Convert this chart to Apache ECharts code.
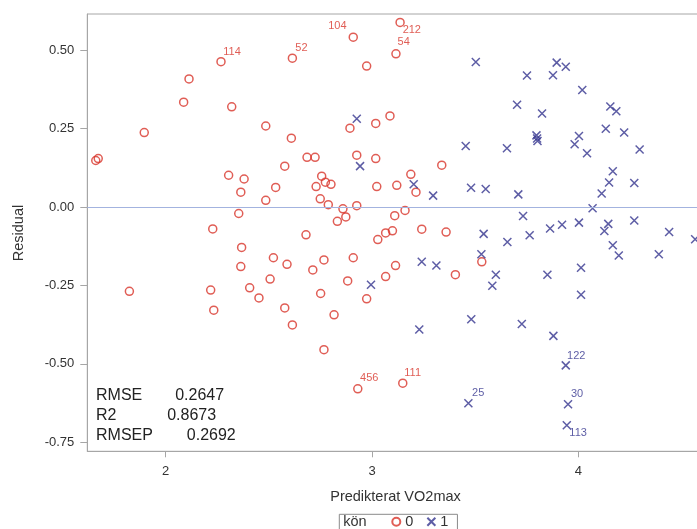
<!DOCTYPE html>
<html><head><meta charset="utf-8">
<script src="https://cdn.jsdelivr.net/npm/echarts@6/dist/echarts.min.js"></script>
<style>html,body{margin:0;padding:0;background:#fff;overflow:hidden;width:697px;height:529px;} #c{width:717px;height:529px;}</style>
</head><body><div id="c"></div>
<script>
// ---------- data ----------
const xTicks = [2, 3, 4];
const yTicks = [-0.75, -0.5, -0.25, 0, 0.25, 0.5];
const xTitle = 'Predikterat VO2max';
const yTitle = 'Residual';
const legendTitle = 'kön';
const groupNames = ['0', '1'];
const statNames = ['RMSE', 'R2', 'RMSEP'];
const statValues = ['0.2647', '0.8673', '0.2692'];

// kön = 0 : [predicted, residual, obs label]
const group0 = [
  [2.268,0.463,'114'],[2.113,0.408,''],[2.087,0.334,''],[2.320,0.319,''],[1.896,0.237,''],
  [1.661,0.148,''],[1.673,0.154,''],[2.614,0.474,'52'],[2.909,0.541,'104'],[3.136,0.588,'212'],
  [3.116,0.488,'54'],[2.974,0.449,''],[2.485,0.258,''],[2.609,0.219,''],[2.893,0.251,''],
  [3.018,0.266,''],[3.087,0.290,''],[2.685,0.158,''],[2.724,0.158,''],[2.926,0.165,''],
  [3.018,0.154,''],[2.577,0.130,''],[2.305,0.101,''],[2.380,0.089,''],[2.364,0.047,''],
  [2.533,0.062,''],[2.485,0.021,''],[2.756,0.098,''],[2.774,0.079,''],[2.801,0.072,''],
  [2.729,0.065,''],[2.749,0.026,''],[2.788,0.007,''],[2.859,-0.006,''],[2.926,0.004,''],
  [3.023,0.065,''],[3.120,0.069,''],[2.354,-0.021,''],[2.832,-0.046,''],[2.873,-0.032,''],
  [3.110,-0.028,''],[2.228,-0.070,''],[3.338,0.133,''],[3.188,0.104,''],[3.213,0.047,''],
  [3.160,-0.011,''],[3.099,-0.076,''],[3.241,-0.071,''],[3.359,-0.080,''],[2.680,-0.089,''],
  [3.066,-0.083,''],[3.028,-0.104,''],[2.368,-0.129,''],[2.522,-0.162,''],[2.588,-0.183,''],
  [2.364,-0.190,''],[2.767,-0.169,''],[2.713,-0.201,''],[2.909,-0.162,''],[3.114,-0.187,''],
  [3.066,-0.222,''],[2.882,-0.236,''],[2.506,-0.230,''],[2.407,-0.258,''],[2.452,-0.290,''],
  [2.218,-0.265,''],[1.824,-0.269,''],[2.233,-0.329,''],[2.751,-0.276,''],[2.974,-0.293,''],
  [2.577,-0.322,''],[2.614,-0.376,''],[2.816,-0.344,''],[2.767,-0.455,''],[2.931,-0.580,'456'],
  [3.149,-0.562,'111'],[3.532,-0.175,''],[3.404,-0.216,'']
];
// kön = 1
const group1 = [
  [2.926,0.281,''],[2.942,0.130,''],[3.202,0.072,''],[3.296,0.036,''],[3.454,0.194,''],
  [3.503,0.462,''],[3.480,0.061,''],[3.551,0.057,''],[3.654,0.187,''],[3.703,0.326,''],
  [3.709,0.040,''],[3.732,-0.029,''],[3.751,0.419,''],[3.797,0.228,''],[3.800,0.218,''],
  [3.802,0.210,''],[3.824,0.298,''],[3.877,0.420,''],[3.895,0.460,''],[3.939,0.447,''],
  [4.019,0.373,''],[4.003,0.226,''],[3.982,0.200,''],[4.042,0.171,''],[4.133,0.249,''],
  [4.155,0.320,''],[4.184,0.305,''],[4.222,0.237,''],[4.297,0.183,''],[4.167,0.114,''],
  [4.149,0.078,''],[4.271,0.076,''],[4.113,0.043,''],[4.069,-0.004,''],[3.863,-0.069,''],
  [3.921,-0.057,''],[4.003,-0.050,''],[4.145,-0.054,''],[4.271,-0.043,''],[4.126,-0.077,''],
  [4.440,-0.080,''],[4.566,-0.103,''],[4.167,-0.122,''],[4.196,-0.155,''],[4.390,-0.151,''],
  [3.541,-0.086,''],[3.656,-0.112,''],[3.764,-0.090,''],[3.530,-0.151,''],[3.241,-0.175,''],
  [3.312,-0.187,''],[3.600,-0.216,''],[3.583,-0.251,''],[3.850,-0.216,''],[4.013,-0.194,''],
  [4.013,-0.280,''],[2.995,-0.248,''],[3.229,-0.391,''],[3.481,-0.358,''],[3.726,-0.373,''],
  [3.879,-0.411,''],[3.939,-0.505,'122'],[3.467,-0.626,'25'],[3.950,-0.629,'30'],[3.944,-0.696,'113']
];

// ---------- style ----------
const FONT = '"Liberation Sans", Arial, sans-serif';
const RED = '#d8352a';
const BLUE = '#34348e';
const AXIS = '#a6a6a6';
const TXT = '#333333';
const placement = {
  '114':[7,-4.5,'left'], '52':[7.7,-5.3,'left'], '104':[-2,-6,'right'], '212':[7.3,12,'left'],
  '54':[6.3,-6.7,'left'], '456':[7,-5.7,'left'], '111':[6.3,-6,'left'], '122':[6,-5,'left'],
  '25':[8.4,-6,'left'], '30':[7.7,-6,'left'], '113':[7.3,12,'left']
};
function items(arr, color) {
  return arr.map(d => {
    const it = { value: [d[0], d[1]] };
    if (d[2]) {
      const p = placement[d[2]] || [7,-5,'left'];
      it.label = { show: true, formatter: d[2], position: [p[0], p[1]], align: p[2],
        verticalAlign: 'middle', color: color, fontSize: 11, fontFamily: FONT };
    }
    return it;
  });
}

const chart = echarts.init(document.getElementById('c'), null, { renderer: 'canvas' });
chart.setOption({
  animation: false,
  backgroundColor: '#ffffff',
  grid: { left: 87.3, top: 14, right: 0, bottom: 77.7, show: true, borderColor: AXIS, borderWidth: 1, containLabel: false },
  xAxis: {
    type: 'value', min: 1.62, max: 4.672,
    axisLine: { show: true, onZero: false, lineStyle: { color: AXIS } },
    axisTick: { show: true, length: 6, customValues: xTicks, lineStyle: { color: AXIS } },
    axisLabel: { customValues: xTicks, margin: 14, color: TXT, fontSize: 13, fontFamily: FONT, formatter: v => String(v) },
    splitLine: { show: false }
  },
  yAxis: {
    type: 'value', min: -0.779, max: 0.615,
    axisLine: { show: true, onZero: false, lineStyle: { color: AXIS } },
    axisTick: { show: true, length: 7, customValues: yTicks, lineStyle: { color: AXIS } },
    axisLabel: { customValues: yTicks, margin: 13, color: TXT, fontSize: 13, fontFamily: FONT, formatter: v => v.toFixed(2) },
    splitLine: { show: false }
  },
  legend: {
    left: 339.3, top: 514.3, orient: 'horizontal',
    padding: [0, 9, 10, 52], itemGap: 13, itemWidth: 8, itemHeight: 8,
    borderColor: '#8a8a8a', borderWidth: 1,
    textStyle: { color: TXT, fontSize: 14.5, fontFamily: FONT },
    data: groupNames
  },
  series: [
    {
      name: groupNames[0], type: 'scatter', symbol: 'circle', symbolSize: 8,
      itemStyle: { color: 'rgba(0,0,0,0)', borderColor: RED, borderWidth: 1.5 },
      data: items(group0, RED), z: 3,
      markLine: {
        silent: true, symbol: ['none', 'none'], label: { show: false },
        lineStyle: { color: '#a3b3df', width: 1, type: 'solid' },
        data: [{ yAxis: 0 }]
      }
    },
    {
      name: groupNames[1], type: 'scatter', symbol: 'path://M0,0L10,10M10,0L0,10', symbolSize: 8,
      itemStyle: { color: 'rgba(0,0,0,0)', borderColor: BLUE, borderWidth: 1.5 },
      data: items(group1, BLUE), z: 3
    }
  ],
  graphic: [
    { type: 'text', x: 19, y: 233, rotation: Math.PI / 2,
      style: { text: yTitle, x: 0, y: 0, align: 'center', verticalAlign: 'middle', fill: TXT, font: '14.5px ' + FONT } },
    { type: 'text', x: 395.5, y: 496.7,
      style: { text: xTitle, align: 'center', verticalAlign: 'middle', fill: TXT, font: '14.5px ' + FONT } },
    { type: 'text', x: 343.3, y: 522,
      style: { text: legendTitle, align: 'left', verticalAlign: 'middle', fill: TXT, font: '14.5px ' + FONT } },
    { type: 'text', x: 96, y: 395.7, style: { text: statNames[0], verticalAlign: 'middle', fill: '#222', font: '16px ' + FONT } },
    { type: 'text', x: 96, y: 415.7, style: { text: statNames[1], verticalAlign: 'middle', fill: '#222', font: '16px ' + FONT } },
    { type: 'text', x: 96, y: 435.7, style: { text: statNames[2], verticalAlign: 'middle', fill: '#222', font: '16px ' + FONT } },
    { type: 'text', x: 175.2, y: 395.7, style: { text: statValues[0], verticalAlign: 'middle', fill: '#222', font: '16px ' + FONT } },
    { type: 'text', x: 167.2, y: 415.7, style: { text: statValues[1], verticalAlign: 'middle', fill: '#222', font: '16px ' + FONT } },
    { type: 'text', x: 186.8, y: 435.7, style: { text: statValues[2], verticalAlign: 'middle', fill: '#222', font: '16px ' + FONT } }
  ]
});
</script></body></html>
